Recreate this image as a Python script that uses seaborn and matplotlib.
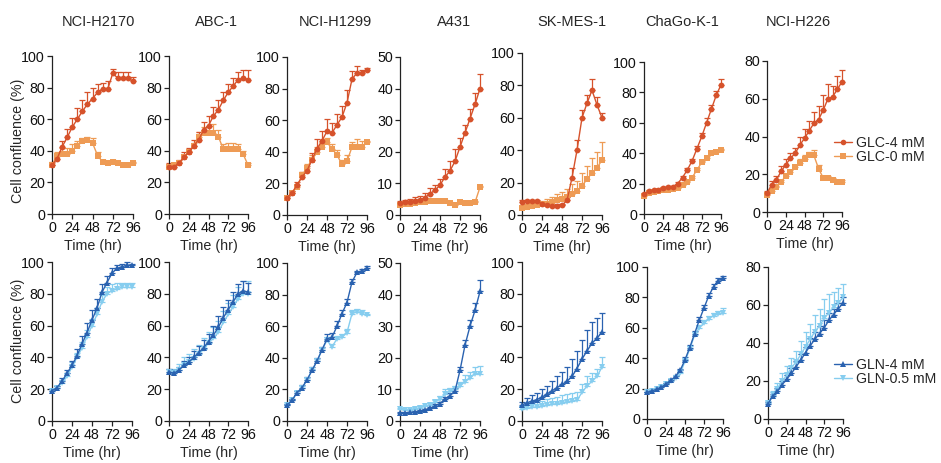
import numpy as np
import pandas as pd
import matplotlib
matplotlib.use("Agg")
import matplotlib.pyplot as plt
from matplotlib.lines import Line2D
import seaborn as sns

sns.set_style("ticks")
plt.rcParams['font.family'] = ['Liberation Sans', 'DejaVu Sans']
plt.rcParams['font.size'] = 10

time_hr = [0, 6, 12, 18, 24, 30, 36, 42, 48, 54, 60, 66, 72, 78, 84, 90, 96]
cell_lines = ["NCI-H2170", "ABC-1", "NCI-H1299", "A431", "SK-MES-1", "ChaGo-K-1", "NCI-H226"]
top_conditions = ["GLC-4 mM", "GLC-0 mM"]
bottom_conditions = ["GLN-4 mM", "GLN-0.5 mM"]
x_ticks = [0, 24, 48, 72, 96]
top_ymax = [100, 100, 100, 50, 100, 100, 80]
bottom_ymax = [100, 100, 100, 50, 100, 100, 80]

# ---- top row: glucose ----
h2170_glc4 = [31, 35, 42.5, 48.5, 55, 60, 65, 69.5, 73, 77, 79, 79, 89, 86, 86, 86, 84]
h2170_glc4_err = [2, 2, 4, 5, 6, 7, 7, 8, 7, 5, 4, 5, 3, 4, 4, 4, 3]
h2170_glc0 = [31, 37, 38, 38, 40, 43, 46, 47, 45, 37, 33, 32, 33, 32, 31, 31, 32]
h2170_glc0_err = [1, 2, 4, 4, 4, 3, 2, 2, 3, 2, 1, 1, 1, 1, 1, 1, 1]

abc1_glc4 = [30, 30, 32, 36, 39, 43, 47, 53, 56, 62, 66, 72, 77, 81, 85, 86, 85]
abc1_glc4_err = [2, 2, 2, 3, 3, 4, 5, 5, 6, 6, 6, 5, 5, 5, 5, 5, 6]
abc1_glc0 = [30, 31, 32, 36, 39, 43, 49, 51, 51, 51, 49, 41, 41, 41, 41, 38, 31]
abc1_glc0_err = [1, 1, 1, 1, 1, 2, 3, 4, 5, 6, 4, 3, 4, 4, 3, 2, 1]

h1299_glc4 = [11, 14, 19, 24, 28, 35, 42, 47, 53, 52, 57, 62, 71, 86, 90, 90, 92]
h1299_glc4_err = [1, 1, 2, 3, 3, 4, 6, 6, 8, 6, 7, 7, 8, 5, 4, 2, 1]
h1299_glc0 = [11, 14, 18, 25, 30, 35, 40, 43, 46, 42, 38, 32, 34, 43, 43, 43, 46]
h1299_glc0_err = [1, 1, 1, 2, 2, 3, 3, 3, 3, 3, 3, 3, 4, 3, 5, 4, 1]

a431_glc4 = [3.8, 4, 4.2, 4.5, 4.8, 5.5, 6.8, 7.8, 9.5, 12, 14, 17, 21.5, 26, 30.5, 35, 40]
a431_glc4_err = [0.6, 0.8, 1, 1.2, 1.3, 1.4, 1.6, 1.8, 2, 2.5, 3, 4, 3, 2.5, 3, 3.5, 4.5]
a431_glc0 = [3.2, 3.4, 3.6, 3.8, 4, 4.2, 4.3, 4.4, 4.5, 4.5, 3.9, 3.2, 4, 3.9, 3.7, 4, 8.8]
a431_glc0_err = [0.3, 0.3, 0.3, 0.4, 0.4, 0.4, 0.4, 0.4, 0.4, 0.4, 0.3, 0.3, 0.3, 0.3, 0.3, 0.3, 0.5]

skmes1_glc4 = [8, 8.5, 8.5, 8.5, 7, 6, 5.5, 5.5, 6, 9, 23, 40, 60, 69, 77, 68, 60]
skmes1_glc4_err = [1, 1, 1, 1, 1, 1, 1, 1, 1, 2, 6, 6, 5, 5, 7, 5, 3]
skmes1_glc0 = [4.5, 5, 5.5, 6, 6.5, 7, 8, 9, 10, 11, 13, 15, 18, 22, 26, 29, 34]
skmes1_glc0_err = [1, 1, 1, 2, 2, 3, 3, 4, 4, 5, 6, 6, 8, 8, 9, 10, 11]

chago_glc4 = [13, 15, 15.5, 16, 17, 17.5, 18, 20, 24, 29, 35, 43, 51, 60, 69, 78, 85]
chago_glc4_err = [0.5, 0.5, 0.5, 0.5, 0.5, 0.6, 0.7, 0.8, 1, 1.2, 1.5, 2, 2.5, 3, 3, 3, 3.5]
chago_glc0 = [12, 14, 14.5, 15, 15.5, 16, 16.5, 17, 19, 21, 24, 29, 34, 37, 40, 41, 42]
chago_glc0_err = [0.3, 0.3, 0.3, 0.3, 0.4, 0.4, 0.5, 0.5, 0.6, 0.7, 0.8, 1, 1, 1, 1, 1, 1]

h226_glc4 = [10, 14.5, 17, 21.5, 25, 28.5, 31, 35.5, 39, 43, 47, 49, 54, 60, 61, 65, 69]
h226_glc4_err = [1, 2, 2, 3, 3, 3, 3, 4, 5, 5, 6, 7, 8, 8, 6, 7, 6]
h226_glc0 = [9, 11, 13, 16, 19, 21, 24, 26, 28, 30, 30, 23, 18, 18, 17, 16, 16]
h226_glc0_err = [0.5, 1, 1, 1, 1, 1, 1, 2, 2, 2, 3, 2, 1, 1, 1, 1, 1]

# ---- bottom row: glutamine ----
h2170_gln4 = [19, 21, 25, 30, 35, 41, 48.5, 55.5, 63.5, 71, 81, 87, 93, 96, 97, 98, 98]
h2170_gln4_err = [1, 1, 2, 2, 3, 4, 5, 6, 6, 6, 5, 4, 3, 2, 2, 2, 1]
h2170_gln05 = [19, 21, 24, 28, 34, 40, 46, 53, 60, 67, 75, 80, 82, 83, 84, 84, 84]
h2170_gln05_err = [1, 1, 2, 2, 3, 3, 4, 4, 4, 4, 4, 4, 4, 4, 3, 3, 3]

abc1_gln4 = [31, 30, 32, 35, 37, 40, 43, 46, 50, 54, 59, 65, 70, 75, 80, 82, 81]
abc1_gln4_err = [2, 2, 2, 3, 3, 4, 4, 5, 5, 6, 7, 7, 6, 6, 6, 6, 6]
abc1_gln05 = [31, 30, 32, 35, 37, 39, 42, 45, 49, 52, 56, 62, 67, 72, 77, 80, 80]
abc1_gln05_err = [2, 3, 4, 5, 5, 6, 6, 7, 7, 7, 7, 7, 7, 7, 7, 8, 8]

h1299_gln4 = [10, 13, 18, 21, 26, 32, 38, 45, 52, 53, 60, 68, 75, 88, 94, 95, 97]
h1299_gln4_err = [1, 1, 1, 2, 2, 2, 2, 2, 3, 3, 3, 2, 2, 2, 1, 1, 1]
h1299_gln05 = [10, 13, 18, 21, 26, 32, 38, 45, 51, 47, 52, 53, 56, 68, 69, 68, 67]
h1299_gln05_err = [1, 1, 1, 1, 1, 1, 1, 1, 2, 2, 2, 2, 2, 2, 2, 2, 1]

a431_gln4 = [2.5, 2.6, 2.7, 2.9, 3.2, 3.6, 4, 4.8, 5.5, 7, 8, 9.5, 16, 24, 30, 35, 41]
a431_gln4_err = [0.2, 0.2, 0.2, 0.2, 0.3, 0.3, 0.4, 0.5, 0.6, 0.7, 0.8, 1, 1.2, 1.5, 2, 2.5, 3.5]
a431_gln05 = [3.8, 3.6, 3.6, 3.8, 4.2, 4.6, 5.2, 6, 7, 8.5, 9.5, 10, 11, 12.5, 13.5, 15, 15]
a431_gln05_err = [0.3, 0.3, 0.3, 0.4, 0.4, 0.5, 0.6, 0.8, 1, 1.5, 1, 1, 1.5, 2, 2, 2, 2.5]

skmes1_gln4 = [10, 11.5, 12.5, 13.5, 15, 17, 19, 21, 23, 25, 28, 33, 39, 44, 49, 52, 56]
skmes1_gln4_err = [2, 3, 4, 4, 5, 5, 6, 7, 8, 9, 11, 11, 12, 13, 13, 13, 12]
skmes1_gln05 = [7.5, 8, 8.5, 9, 9.5, 10, 10.5, 11, 11.5, 12, 12.5, 13, 18, 22, 25, 28, 34]
skmes1_gln05_err = [2, 2, 3, 3, 3, 4, 4, 4, 5, 5, 5, 5, 5, 6, 5, 5, 6]

chago_gln4 = [17.5, 18.5, 19.5, 21, 23, 25.5, 28, 32, 39, 47, 56, 65, 73, 81, 87, 91, 93]
chago_gln4_err = [0.5, 0.5, 0.6, 0.7, 0.8, 1, 1, 1.2, 1.5, 2, 2, 2, 2, 2, 2, 2, 1]
chago_gln05 = [17.5, 18.5, 19.5, 21, 23, 25, 27, 30, 38, 46, 55, 60, 63, 66, 68, 69, 70]
chago_gln05_err = [0.5, 0.5, 0.6, 0.7, 0.8, 1, 1, 1.2, 1.5, 2, 2, 2, 2, 2, 2, 2, 3]

h226_gln4 = [8, 12, 14.5, 18, 21, 24, 27.5, 31, 35, 38.5, 42, 45, 48, 52, 55, 58, 61]
h226_gln4_err = [1, 1, 2, 2, 2, 3, 3, 3, 3, 4, 4, 4, 4, 4, 3, 3, 3]
h226_gln05 = [8.5, 12.5, 16, 20, 23, 27, 30, 34, 38, 42, 46, 49, 53, 56, 59, 61, 64]
h226_gln05_err = [1, 2, 3, 4, 5, 5, 6, 7, 8, 8, 9, 9, 10, 10, 8, 8, 7]

top_data = [
    (h2170_glc4, h2170_glc4_err, h2170_glc0, h2170_glc0_err),
    (abc1_glc4, abc1_glc4_err, abc1_glc0, abc1_glc0_err),
    (h1299_glc4, h1299_glc4_err, h1299_glc0, h1299_glc0_err),
    (a431_glc4, a431_glc4_err, a431_glc0, a431_glc0_err),
    (skmes1_glc4, skmes1_glc4_err, skmes1_glc0, skmes1_glc0_err),
    (chago_glc4, chago_glc4_err, chago_glc0, chago_glc0_err),
    (h226_glc4, h226_glc4_err, h226_glc0, h226_glc0_err),
]
bottom_data = [
    (h2170_gln4, h2170_gln4_err, h2170_gln05, h2170_gln05_err),
    (abc1_gln4, abc1_gln4_err, abc1_gln05, abc1_gln05_err),
    (h1299_gln4, h1299_gln4_err, h1299_gln05, h1299_gln05_err),
    (a431_gln4, a431_gln4_err, a431_gln05, a431_gln05_err),
    (skmes1_gln4, skmes1_gln4_err, skmes1_gln05, skmes1_gln05_err),
    (chago_gln4, chago_gln4_err, chago_gln05, chago_gln05_err),
    (h226_gln4, h226_gln4_err, h226_gln05, h226_gln05_err),
]

top_colors = ["#D6522B", "#EE9B55"]
bottom_colors = ["#2A62B0", "#86CDEF"]
top_markers = ["o", "s"]
bottom_markers = ["^", "v"]

W, H = 941, 463
fig = plt.figure(figsize=(W / 100, H / 100), dpi=100)

# axes boxes in pixels: (left, right, top, bottom)
top_boxes = [(52, 133, 56, 214), (169, 248, 56, 214), (287, 367, 57, 215), (400, 480, 57, 215),
             (522, 602, 53, 215), (644, 721, 62, 214), (767, 842, 61, 212)]
bottom_boxes = [(52, 132, 262, 421), (169, 248, 262, 421), (287, 367, 263, 421), (400, 480, 263, 421),
                (522, 602, 262, 421), (647, 723, 267, 419), (768, 843, 267, 419)]
title_x = [98, 216, 335, 454, 572, 682, 798]
spine_color = "#222222"
FS = 10.3


def make_ax(box):
    l, r, t, b = box
    return fig.add_axes([l / W, 1 - b / H, (r - l) / W, (b - t) / H])


def draw_panel(ax, series, conds, colors, markers, ymax):
    m1, e1, m2, e2 = series
    df = pd.DataFrame({
        "Time": time_hr * 2,
        "Confluence": list(m1) + list(m2),
        "Condition": [conds[0]] * len(time_hr) + [conds[1]] * len(time_hr),
    })
    for (mean, err, color) in [(m2, e2, colors[1]), (m1, e1, colors[0])]:
        ax.errorbar(time_hr, mean, yerr=[np.zeros(len(err)), err], fmt="none",
                    ecolor=color, elinewidth=0.9, capsize=2.3, capthick=0.9,
                    clip_on=False, zorder=2)
    sns.lineplot(data=df, x="Time", y="Confluence", hue="Condition", style="Condition",
                 hue_order=conds[::-1], style_order=conds[::-1],
                 palette={conds[0]: colors[0], conds[1]: colors[1]},
                 markers={conds[0]: markers[0], conds[1]: markers[1]},
                 dashes=False, markersize=4.2, markeredgewidth=0, linewidth=1.0,
                 legend=False, errorbar=None, ax=ax, zorder=3)
    for ln in ax.lines:
        ln.set_clip_on(False)
    ax.set_xlim(0, 96)
    ax.set_ylim(0, ymax)
    ax.set_xticks(x_ticks)
    step = 10 if ymax == 50 else 20
    ax.set_yticks(np.arange(0, ymax + 1, step))
    ax.set_xlabel("Time (hr)", fontsize=FS, labelpad=3)
    ax.set_ylabel("")
    sns.despine(ax=ax)
    for s in ["left", "bottom"]:
        ax.spines[s].set_color(spine_color)
        ax.spines[s].set_linewidth(0.9)
    ax.tick_params(axis="both", length=3.5, width=0.9, color=spine_color, pad=1.5,
                   labelsize=FS, labelcolor="#111111")
    ax.patch.set_alpha(0)


for i in range(7):
    ax = make_ax(top_boxes[i])
    draw_panel(ax, top_data[i], top_conditions, top_colors, top_markers, top_ymax[i])
    fig.text(title_x[i] / W, 1 - 22 / H, cell_lines[i], ha="center", va="center", fontsize=10.5)
    axb = make_ax(bottom_boxes[i])
    draw_panel(axb, bottom_data[i], bottom_conditions, bottom_colors, bottom_markers, bottom_ymax[i])

fig.text(18 / W, 1 - 141 / H, "Cell confluence (%)", rotation=90, ha="center", va="center", fontsize=FS)
fig.text(18 / W, 1 - 341 / H, "Cell confluence (%)", rotation=90, ha="center", va="center", fontsize=FS)

top_handles = [Line2D([], [], color=top_colors[k], marker=top_markers[k], markersize=4,
                      markeredgewidth=0, linewidth=1.0) for k in range(2)]
bottom_handles = [Line2D([], [], color=bottom_colors[k], marker=bottom_markers[k], markersize=4,
                         markeredgewidth=0, linewidth=1.0) for k in range(2)]
leg_kw = dict(loc="center left", frameon=False, fontsize=10.2, handlelength=1.3,
              handletextpad=0.25, labelspacing=0.05, borderaxespad=0, borderpad=0)
fig.legend(top_handles, top_conditions, bbox_to_anchor=(834 / W, 1 - 150 / H), **leg_kw)
fig.legend(bottom_handles, bottom_conditions, bbox_to_anchor=(834 / W, 1 - 372 / H), **leg_kw)

fig.savefig("out.png", dpi=100)
